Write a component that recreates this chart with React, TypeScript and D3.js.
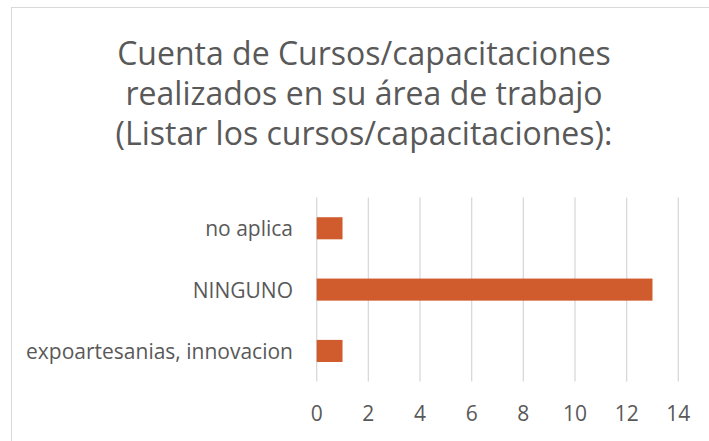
import React from "react";
import * as d3 from "d3";

const categories = ["no aplica", "NINGUNO", "expoartesanias, innovacion"];
const values = [1, 13, 1];
const xTicks = [0, 2, 4, 6, 8, 10, 12, 14];
const titleLines = [
  "Cuenta de Cursos/capacitaciones",
  "realizados en su área de trabajo",
  "(Listar los cursos/capacitaciones):",
];

const W = 709;
const H = 441;
const FONT = "'Open Sans', Lato, sans-serif";
const TEXT = "#595959";
const GRID = "#D9D9D9";
const BAR = "#D05B2C";

export default function App() {
  const x = d3.scaleLinear().domain([0, 14]).range([316.7, 678.3]);
  const y = d3
    .scaleBand<string>()
    .domain(categories)
    .range([197.6, 381.6])
    .paddingInner(0.64)
    .paddingOuter(0.32);

  return (
    <svg
      width={W}
      height={H}
      style={{ position: "absolute", left: 0, top: 0, display: "block", background: "#fff" }}
    >
      <rect x={0} y={0} width={W} height={H} fill="#fff" />
      <rect x={11.5} y={7.5} width={W + 10} height={H + 10} fill="none" stroke={GRID} strokeWidth={1} />
      <g fontFamily={FONT} fill={TEXT} textAnchor="middle" fontSize={32}>
        {titleLines.map((t, i) => (
          <text key={i} x={364} y={65 + i * 40}>
            {t}
          </text>
        ))}
      </g>
      <g>
        {xTicks.map((t) => (
          <line key={t} x1={x(t)} x2={x(t)} y1={197.6} y2={381.6} stroke={GRID} strokeWidth={1.3} />
        ))}
      </g>
      <g>
        {categories.map((c, i) => (
          <rect
            key={c}
            x={x(0)}
            y={y(c)}
            width={x(values[i]) - x(0)}
            height={y.bandwidth()}
            fill={BAR}
          />
        ))}
      </g>
      <g fontFamily={FONT} fill={TEXT} fontSize={21}>
        {categories.map((c) => (
          <text key={c} x={293} y={(y(c) as number) + y.bandwidth() / 2} textAnchor="end" dominantBaseline="central">
            {c}
          </text>
        ))}
        {xTicks.map((t) => (
          <text key={t} x={x(t)} y={413} textAnchor="middle" dominantBaseline="central">
            {t}
          </text>
        ))}
      </g>
    </svg>
  );
}
